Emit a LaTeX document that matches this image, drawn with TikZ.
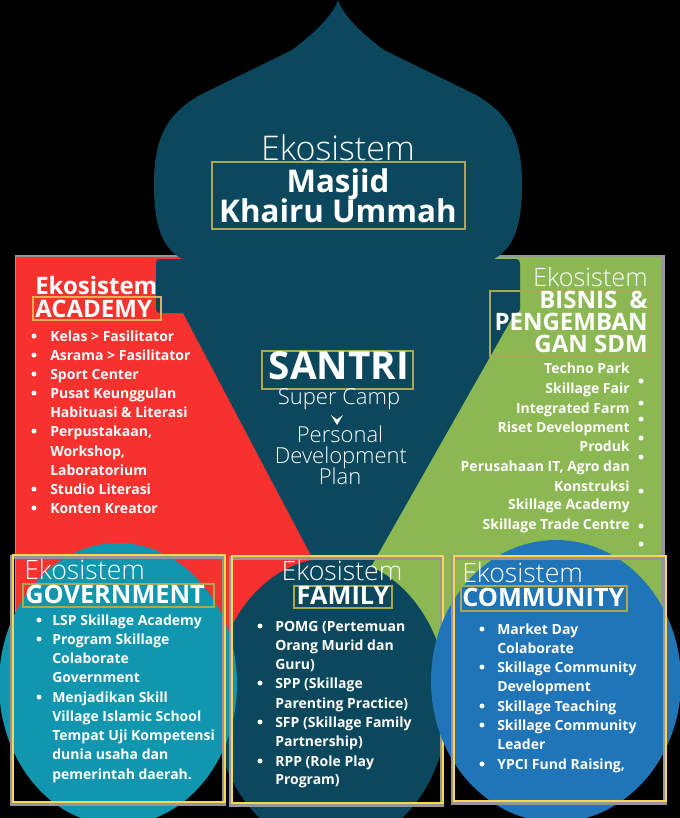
\documentclass[tikz,border=0pt]{standalone}
\usepackage{fontspec}
\setmainfont{Open Sans}
\newfontfamily\lightfont{Open Sans Light}
\definecolor{dome}{RGB}{11,71,93}
\definecolor{redbg}{RGB}{247,50,46}
\definecolor{greenbg}{RGB}{139,184,82}
\definecolor{govc}{RGB}{16,150,175}
\definecolor{commc}{RGB}{31,117,184}
\definecolor{ybox}{RGB}{247,215,80}
\definecolor{lbox}{RGB}{172,168,82}
\definecolor{obox}{RGB}{225,175,85}
\definecolor{shadowgray}{RGB}{150,150,150}
\tikzset{
  lbl/.style={inner sep=0pt, text=white},
  ekoreg/.style={lbl, font=\lightfont\fontsize{20}{20}\selectfont},
  headb/.style={lbl, font=\bfseries\fontsize{19}{20}\selectfont},
  itm/.style={lbl, anchor=base west, font=\bfseries\fontsize{10.5}{12}\selectfont},
  itmr/.style={lbl, anchor=base east, font=\bfseries\fontsize{10.5}{12}\selectfont},
  pdp/.style={lbl, anchor=base, font=\lightfont\fontsize{16.5}{18}\selectfont},
  labelbox/.style={draw=lbox, line width=0.8pt},
  ecobox/.style={draw=ybox, line width=1.7pt},
  ecoshadow/.style={draw=shadowgray, line width=3pt},
}
\begin{document}
\begin{tikzpicture}[x=0.75pt,y=-0.75pt]
\useasboundingbox (0,0) rectangle (680,818);
\fill[black] (0,0) rectangle (680,818);
% side panels
\fill[shadowgray] (15,254.5) rectangle (345,640);
\fill[redbg] (16,257) rectangle (345,640);
\fill[shadowgray] (336,254.5) rectangle (665,640);
\fill[greenbg] (336,257) rectangle (661,640);
% dome
\fill[dome] (338,0) .. controls (333,15) and (316,32) .. (292,50)
  .. controls (262,65) and (226,82) .. (200,95)
  .. controls (165,115) and (154,140) .. (154,185)
  .. controls (154,225) and (162,248) .. (182,259)
  -- (494,259)
  .. controls (514,248) and (522,225) .. (522,185)
  .. controls (522,140) and (511,115) .. (476,95)
  .. controls (450,82) and (414,65) .. (384,50)
  .. controls (360,32) and (343,15) .. (338,0) -- cycle;
\fill[dome, rounded corners=3pt] (156,259) rectangle (520,313);
\fill[dome] (182,311) -- (516,311) -- (343,616) -- cycle;
% bottom ecosystems
\fill[dome] (331,703) ellipse [x radius=117, y radius=145];
\fill[govc] (118,684) ellipse [x radius=119, y radius=141];
\draw[ecoshadow] (12,557) rectangle (224,804);
\draw[ecobox] (13,555) rectangle (225,802);
\draw[ecoshadow] (231,558) rectangle (442,805);
\draw[ecobox] (232,556) rectangle (443,803);
\fill[commc] (556,681) ellipse [x radius=125, y radius=141];
\draw[ecoshadow] (453,558) rectangle (665,803);
\draw[ecobox] (454,556) rectangle (666,801);

% ---- Masjid
\node[lbl, anchor=base, font=\lightfont\fontsize{25.5}{26}\selectfont] (mEko) at (338,160) {Ekosistem};
\draw[labelbox] (212,162) rectangle (465,229);
\node[lbl, anchor=base, font=\bfseries\fontsize{23.5}{24}\selectfont] (mMasjid) at (338,192) {Masjid};
\node[lbl, anchor=base, font=\bfseries\fontsize{23.5}{24}\selectfont] (mKhairu) at (338,222) {Khairu Ummah};

% ---- Academy
\node[lbl, anchor=base west, font=\bfseries\fontsize{18}{20}\selectfont] (aEko) at (35,294) {Ekosistem};
\draw[labelbox, draw=obox] (33,297) rectangle (161,320);
\node[lbl, anchor=base west, font=\bfseries\fontsize{18}{20}\selectfont] (aHead) at (35,317) {ACADEMY};
\foreach \yy/\bul/\txt [count=\i] in {341/1/{Kelas > Fasilitator}, 360/1/{Asrama > Fasilitator}, 379/1/{Sport Center}, 398/1/{Pusat Keunggulan}, 417/0/{Habituasi \& Literasi}, 436/1/{Perpustakaan,}, 456/0/{Workshop,}, 475/0/{Laboratorium}, 494/1/{Studio Literasi}, 513/1/{Konten Kreator}} {
  \node[itm] (acad\i) at (50,\yy) {\txt};
  \ifnum\bul=1 \fill[white] (34,\yy-5) circle (2.5); \fi
}

% ---- Bisnis
\node[lbl, anchor=base east, font=\lightfont\fontsize{19}{20}\selectfont] (bEko) at (648,286) {Ekosistem};
\draw[labelbox] (490,291) rectangle (650,356);
\node[lbl, anchor=base east, font=\bfseries\fontsize{18}{20}\selectfont] (bHead1) at (648,308) {BISNIS\ \ \&};
\node[lbl, anchor=base east, font=\bfseries\fontsize{18}{20}\selectfont] (bHead2) at (648,330) {PENGEMBAN};
\node[lbl, anchor=base east, font=\bfseries\fontsize{18}{20}\selectfont] (bHead3) at (648,352) {GAN SDM};
\foreach \yy/\txt [count=\i] in {373/{Techno Park}, 393/{Skillage Fair}, 413/{Integrated Farm}, 432/{Riset Development}, 451/{Produk}, 471/{Perusahaan IT, Agro dan}, 491/{Konstruksi}, 509/{Skillage Academy}, 529/{Skillage Trade Centre}} {
  \node[itmr] (bis\i) at (630,\yy) {\txt};
}
\foreach \yy in {381,403,419,438,457,491,526,544} {\fill[white] (641,\yy) circle (2.5);}

% ---- Santri
\draw[labelbox] (262,351) rectangle (413,389);
\node[lbl, anchor=base, font=\bfseries\fontsize{29}{30}\selectfont] (santri) at (339,379) {SANTRI};
\node[pdp] (camp) at (339,404) {Super Camp};
\fill[white] (331,415) -- (337,419.5) -- (343,415) -- (337,425) -- cycle;
\node[pdp] (pdp1) at (340,442) {Personal};
\node[pdp] (pdp2) at (341,463) {Development};
\node[pdp] (pdp3) at (340,484) {Plan};

% ---- Government
\node[ekoreg, anchor=base west] (gEko) at (24,579) {Ekosistem};
\draw[labelbox] (23,584) rectangle (214,607);
\node[headb, anchor=base west] (gHead) at (25,603) {GOVERNMENT};
\foreach \yy/\bul/\txt [count=\i] in {625/1/{LSP Skillage Academy}, 644/1/{Program Skillage}, 663/0/{Colaborate}, 682/0/{Government}, 702/1/{Menjadikan Skill}, 721/0/{Village Islamic School}, 740/0/{Tempat Uji Kompetensi}, 759/0/{dunia usaha dan}, 779/0/{pemerintah daerah.}} {
  \node[itm] (gov\i) at (52,\yy) {\txt};
  \ifnum\bul=1 \fill[white] (39,\yy-5) circle (2.5); \fi
}

% ---- Family
\node[ekoreg, anchor=base] (fEko) at (342,580) {Ekosistem};
\draw[labelbox] (294,586) rectangle (392,608);
\node[headb, anchor=base] (fHead) at (343,604.5) {FAMILY};
\foreach \yy/\bul/\txt [count=\i] in {631/1/{POMG (Pertemuan}, 650/0/{Orang Murid dan}, 669/0/{Guru)}, 688/1/{SPP (Skillage}, 708/0/{Parenting Practice)}, 727/1/{SFP (Skillage Family}, 746/0/{Partnership)}, 766/1/{RPP (Role Play}, 784/0/{Program)}} {
  \node[itm] (fam\i) at (275,\yy) {\txt};
  \ifnum\bul=1 \fill[white] (260,\yy-5) circle (2.5); \fi
}

% ---- Community
\node[ekoreg, anchor=base west] (cEko) at (462,582) {Ekosistem};
\draw[labelbox] (461,586) rectangle (627,611);
\node[headb, anchor=base west] (cHead) at (462,606) {COMMUNITY};
\foreach \yy/\bul/\txt [count=\i] in {634/1/{Market Day}, 653/0/{Colaborate}, 672/1/{Skillage Community}, 691/0/{Development}, 711/1/{Skillage Teaching}, 730/1/{Skillage Community}, 749/0/{Leader}, 769/1/{YPCI Fund Raising,}} {
  \node[itm] (com\i) at (497,\yy) {\txt};
  \ifnum\bul=1 \fill[white] (482,\yy-5) circle (2.5); \fi
}
\end{tikzpicture}
\end{document}
